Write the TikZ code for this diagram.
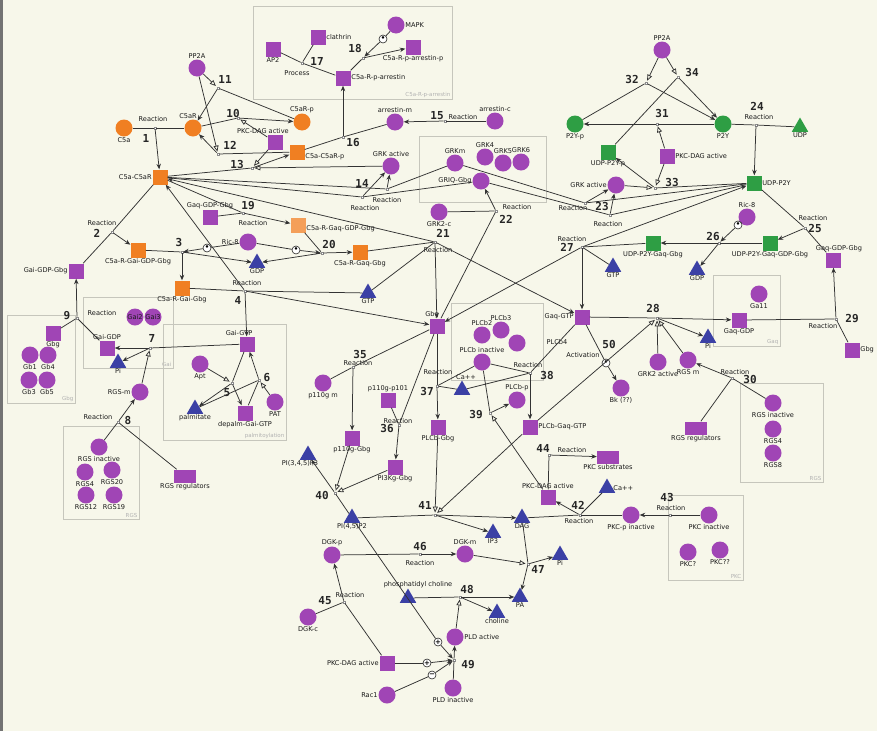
\documentclass[tikz,border=0pt]{standalone}
\usepackage{fontspec}
\setsansfont{DejaVu Sans}
\setmonofont{DejaVu Sans Mono}
\usepackage{tikz}
\usetikzlibrary{arrows.meta,shapes.geometric}
\definecolor{bgc}{HTML}{F7F7EA}
\definecolor{pur}{HTML}{A045B5}
\definecolor{orn}{HTML}{F07F22}
\definecolor{grn}{HTML}{2E9E44}
\definecolor{blu}{HTML}{3B40A5}
\definecolor{boxc}{HTML}{C6C6BC}
\definecolor{lnc}{HTML}{333333}
\tikzset{prot/.style={circle,fill=pur,minimum size=17pt,inner sep=0}}
\tikzset{cplx/.style={rectangle,fill=pur,minimum size=15pt,inner sep=0}}
\tikzset{wcplx/.style={cplx,minimum width=22pt,minimum height=13pt}}
\tikzset{oprot/.style={prot,fill=orn}, ocplx/.style={cplx,fill=orn}}
\tikzset{gprot/.style={prot,fill=grn}, gcplx/.style={cplx,fill=grn}}
\tikzset{tri/.style={regular polygon,regular polygon sides=3,fill=blu,minimum size=19pt,inner sep=0}}
\tikzset{gtri/.style={tri,fill=grn}}
\tikzset{rxn/.style={rectangle,draw=black!45,fill=white,minimum size=2.5pt,inner sep=0,line width=0.3pt}}
\tikzset{modi/.style={circle,draw=black!85,fill=white,minimum size=8pt,inner sep=0,line width=0.6pt,font=\fontsize{7}{7}\selectfont\sffamily\bfseries}}
\tikzset{num/.style={font=\fontsize{11}{11}\selectfont\ttfamily\bfseries,text=black!85,inner sep=0}}
\tikzset{lab/.style={font=\fontsize{6.6}{7}\selectfont\sffamily,text=black!90,inner sep=0.5pt}}
\tikzset{grp/.style={draw=boxc,line width=0.8pt}}
\tikzset{grplab/.style={font=\fontsize{5.5}{6}\selectfont\sffamily,text=black!30,anchor=south east,inner sep=1.5pt}}
\tikzset{ln/.style={draw=lnc,line width=0.75pt}}
\tikzset{pr/.style={ln,-{Stealth[length=5.5pt,width=4.5pt]}}}
\tikzset{cat/.style={ln,-{Triangle[open,length=6pt,width=5pt]},shorten >=1pt}}

\begin{document}
\begin{tikzpicture}[x=1pt,y=-1pt,every label/.style={lab},label distance=0pt]
\fill[bgc] (0,0) rectangle (877,731);
\useasboundingbox (0,0) rectangle (877,731);
\fill[black!55] (0,0) rectangle (3,731);

% groups
\draw[grp] (253,6) rectangle (452,99);
\node[grplab] (g1) at (452,99) {C5a-R-p-arrestin};
\draw[grp] (419,136) rectangle (546,202);
\draw[grp] (7,315) rectangle (75,403);
\node[grplab] (g3) at (75,403) {Gbg};
\draw[grp] (83,297) rectangle (173,368);
\node[grplab] (g4) at (173,368) {Gai};
\draw[grp] (163,324) rectangle (286,440);
\node[grplab] (g5) at (286,440) {palmitoylation};
\draw[grp] (63,426) rectangle (139,519);
\node[grplab] (g6) at (139,519) {RGS};
\draw[grp] (451,303) rectangle (543,380);
\draw[grp] (713,275) rectangle (780,346);
\node[grplab] (g8) at (780,346) {Gaq};
\draw[grp] (740,383) rectangle (823,482);
\node[grplab] (g9) at (823,482) {RGS};
\draw[grp] (668,495) rectangle (743,580);
\node[grplab] (g10) at (743,580) {PKC};

% receptor part
\node[oprot,label=below:C5a] (c5a) at (124,128) {};
\node[oprot,label={[xshift=-5pt]above:C5aR}] (c5ar) at (193,128) {};
\node[oprot,label=above:C5aR-p] (c5arp) at (302,122) {};
\node[ocplx,label=left:C5a-C5aR] (c5ac) at (160,177) {};
\node[ocplx,label={[yshift=-5pt]right:C5a-C5aR-p}] (c5acp) at (297,152) {};
\node[ocplx,label=below:C5a-R-Gai-GDP-Gbg] (gaiggo) at (138,250) {};
\node[ocplx,label=below:C5a-R-Gai-Gbg] (gaio) at (182,288) {};
\node[ocplx,fill=orn!75,label={[yshift=-4pt]right:C5a-R-Gaq-GDP-Gbg}] (gaqggo) at (298,225) {};
\node[ocplx,label=below:C5a-R-Gaq-Gbg] (gaqo) at (360,252) {};
\node[prot,label=above:PP2A] (pp2a) at (197,68) {};
\node[cplx,label=below:AP2] (ap2) at (273,49) {};
\node[cplx,label=right:clathrin] (clat) at (318,37) {};
\node[cplx,label=right:C5a-R-p-arrestin] (arrs) at (343,78) {};
\node[prot,label=right:MAPK] (mapk) at (396,25) {};
\node[cplx,label=below:C5a-R-p-arrestin-p] (arrp) at (413,47) {};
\node[prot,label=above:arrestin-m] (arrm) at (395,122) {};
\node[prot,label=above:arrestin-c] (arrc) at (495,121) {};
\node[cplx,label={[xshift=-12pt]above:PKC-DAG active}] (pkcdag1) at (275,142) {};
\node[prot,label=above:GRK active] (grka) at (391,166) {};
\node[prot,label=above:GRKm] (grkm) at (455,163) {};
\node[prot,label=above:GRK4] (grk4) at (485,157) {};
\node[prot,label=above:GRK5] (grk5) at (503,163) {};
\node[prot,label=above:GRK6] (grk6) at (521,162) {};
\node[prot,label=left:GRIQ-Gbg] (grig) at (481,181) {};
\node[prot,label=below:GRK2-c] (grk2c) at (439,212) {};
\node[cplx,label=above:Gaq-GDP-Gbg] (gaqgg1) at (210,217) {};

% P2Y part
\node[prot,label=above:PP2A] (pp2b) at (662,50) {};
\node[gprot,label=below:P2Y-p] (p2yp) at (575,124) {};
\node[gprot,label=below:P2Y] (p2y) at (723,124) {};
\node[gtri,label=below:UDP] (udp) at (800,127) {};
\node[gcplx,label=below:UDP-P2Y-p] (udpp2yp) at (608,152) {};
\node[cplx,label=right:PKC-DAG active] (pkcdag2) at (667,156) {};
\node[gcplx,label=right:UDP-P2Y] (udpp2y) at (754,183) {};
\node[prot,label=left:GRK active] (grkb) at (616,185) {};
\node[prot,label=above:Ric-8] (ric8r) at (747,217) {};
\node[gcplx,label=below:UDP-P2Y-Gaq-Gbg] (udpgq) at (653,243) {};
\node[gcplx,label=below:UDP-P2Y-Gaq-GDP-Gbg] (udpgqg) at (770,243) {};
\node[tri,label=below:GTP] (gtpr) at (613,267) {};
\node[tri,label=below:GDP] (gdpr) at (697,270) {};
\node[cplx,label={[xshift=6pt]above:Gaq-GDP-Gbg}] (gaqggr) at (833,260) {};
\node[cplx,label=left:Gaq-GTP] (gaqgtp) at (582,317) {};
\node[cplx,label=below:Gaq-GDP] (gaqgdp) at (739,320) {};
\node[prot,label=below:Ga11] (ga11) at (759,294) {};
\node[tri,label=below:Pi] (pir) at (708,338) {};
\node[cplx,label=right:Gbg] (gbgr) at (852,350) {};
\node[prot,label={below:Bk (??)}] (bk) at (621,388) {};
\node[prot,label=below:GRK2 active] (grk2a) at (658,362) {};
\node[prot,label=below:RGS m] (rgsmr) at (688,360) {};
\node[prot,label=below:RGS inactive] (rgsir) at (773,403) {};
\node[prot,label=below:RGS4] (rgs4r) at (773,429) {};
\node[prot,label=below:RGS8] (rgs8) at (773,453) {};
\node[wcplx,label=below:RGS regulators] (rgsregr) at (696,428) {};

% middle
\node[tri,label=below:GDP] (gdpl) at (257,263) {};
\node[prot,label=left:Ric-8] (ric8l) at (248,242) {};
\node[tri,label=below:GTP] (gtpm) at (368,293) {};
\node[cplx,label={[xshift=-5pt]above:Gbg}] (gbgm) at (437,326) {};
\node[prot,label=above:PLCb2] (plcb2) at (482,335) {};
\node[prot,label=above:PLCb3] (plcb3) at (501,330) {};
\node[prot] (plcb4) at (517,343) {};
\node[prot,label=above:PLCb inactive] (plcbi) at (482,362) {};
\node[tri,label={[xshift=4pt]above:Ca++}] (cam) at (462,390) {};
\node[prot,label=above:PLCb-p] (plcbp) at (517,400) {};
\node[cplx,label=right:PLCb-Gaq-GTP] (plcbgq) at (530,427) {};
\node[cplx,label=below:PLCb-Gbg] (plcbg) at (438,427) {};
\node[prot,label=below:p110g m] (p110m) at (323,383) {};
\node[cplx,label=above:p110g-p101] (p101) at (388,400) {};
\node[cplx,label=below:p110g-Gbg] (p110gg) at (352,438) {};
\node[cplx,label=below:PI3Kg-Gbg] (pi3k) at (395,467) {};
\node[tri,label={[xshift=-8pt]below:{PI(3,4,5)P3}}] (pip3) at (308,455) {};
\node[tri,label={below:{PI(4,5)P2}}] (pip2) at (352,518) {};
\node[tri,label=below:DAG] (dag) at (522,518) {};
\node[tri,label=below:IP3] (ip3) at (493,533) {};
\node[cplx,label=above:PKC-DAG active] (pkcdag3) at (548,497) {};
\node[wcplx,label=below:PKC substrates] (pkcsub) at (608,457) {};
\node[tri,label=right:Ca++] (car) at (607,488) {};
\node[prot,label=below:PKC-p inactive] (pkcp) at (631,515) {};
\node[prot,label=below:PKC inactive] (pkci) at (709,515) {};
\node[prot,label=below:PKC?] (pkc1) at (688,552) {};
\node[prot,label=below:PKC??] (pkc2) at (720,550) {};
\node[prot,label=above:DGK-p] (dgkp) at (332,555) {};
\node[prot,label=above:DGK-m] (dgkm) at (465,554) {};
\node[tri,label=below:Pi] (pi2) at (560,555) {};
\node[tri,label={[xshift=10pt]above:phosphatidyl choline}] (pc) at (408,598) {};
\node[tri,label=below:PA] (pa) at (520,597) {};
\node[tri,label=below:choline] (chol) at (497,613) {};
\node[prot,label=below:DGK-c] (dgkc) at (308,617) {};
\node[prot,label=right:PLD active] (plda) at (455,637) {};
\node[cplx,label=left:PKC-DAG active] (pkcdag4) at (387,663) {};
\node[prot,label=left:Rac1] (rac1) at (387,695) {};
\node[prot,label=below:PLD inactive] (pldi) at (453,688) {};

% left part
\node[cplx,label=left:Gai-GDP-Gbg] (gaigg) at (76,271) {};
\node[cplx,label=below:Gbg] (gbgl) at (53,333) {};
\node[prot,label=below:Gb1] (gb1) at (30,355) {};
\node[prot,label=below:Gb4] (gb4) at (48,355) {};
\node[prot,label=below:Gb3] (gb3) at (29,380) {};
\node[prot,label=below:Gb5] (gb5) at (47,380) {};
\node[cplx,label=above:Gai-GDP] (gaigdp) at (107,348) {};
\node[prot,label=center:Gai2] (gai2) at (135,317) {};
\node[prot,label=center:Gai3] (gai3) at (153,317) {};
\node[tri,label=below:Pi] (pil) at (118,363) {};
\node[prot,label=left:RGS-m] (rgsm) at (140,392) {};
\node[cplx,label={[xshift=-8pt]above:Gai-GTP}] (gaigtp) at (247,344) {};
\node[prot,label=below:Apt] (apt) at (200,364) {};
\node[tri,label=below:palmitate] (palm) at (195,409) {};
\node[cplx,label=below:depalm-Gai-GTP] (depal) at (245,413) {};
\node[prot,label=below:PAT] (pat) at (275,402) {};
\node[prot,label=below:RGS inactive] (rgsi) at (99,447) {};
\node[prot,label=below:RGS4] (rgs4) at (85,472) {};
\node[prot,label=below:RGS20] (rgs20) at (112,470) {};
\node[prot,label=below:RGS12] (rgs12) at (86,495) {};
\node[prot,label=below:RGS19] (rgs19) at (114,495) {};
\node[wcplx,label=below:RGS regulators] (rgsregl) at (185,476) {};

% modifiers
\node[modi] (m3) at (207,248) {\textbullet};
\node[modi] (m20) at (296,250) {\textbullet};
\node[modi] (m18) at (383,39) {\textbullet};
\node[modi] (m26) at (738,225) {\textbullet};
\node[modi] (m50) at (606,363) {\textbullet};
\node[modi] (m49a) at (438,642) {+};
\node[modi] (m49b) at (427,663) {+};
\node[modi] (m49c) at (432,675) {\char"2212};

% reaction points
\node[rxn] (r1) at (155,128) {};
\node[rxn] (r2) at (112,232) {};
\node[rxn] (r3) at (182,252) {};
\node[rxn] (r4) at (245,291) {};
\node[rxn] (r5) at (232,383) {};
\node[rxn] (r6) at (259,380) {};
\node[rxn] (r7) at (150,348) {};
\node[rxn] (r8) at (118,422) {};
\node[rxn] (r9) at (77,318) {};
\node[rxn] (r10) at (238,118) {};
\node[rxn] (r11) at (218,88) {};
\node[rxn] (r12) at (218,154) {};
\node[rxn] (r13) at (252,168) {};
\node[rxn] (r14a) at (362,197) {};
\node[rxn] (r14b) at (387,189) {};
\node[rxn] (r15) at (445,121) {};
\node[rxn] (r16) at (343,137) {};
\node[rxn] (r17) at (302,63) {};
\node[rxn] (r18) at (363,58) {};
\node[rxn] (r19) at (243,213) {};
\node[rxn] (r20) at (322,253) {};
\node[rxn] (r21) at (435,242) {};
\node[rxn] (r22) at (496,211) {};
\node[rxn] (r23a) at (585,203) {};
\node[rxn] (r23b) at (610,215) {};
\node[rxn] (r24) at (756,125) {};
\node[rxn] (r25) at (805,228) {};
\node[rxn] (r26) at (719,243) {};
\node[rxn] (r27) at (582,247) {};
\node[rxn] (r28) at (657,318) {};
\node[rxn] (r29) at (836,319) {};
\node[rxn] (r30) at (732,378) {};
\node[rxn] (r31) at (657,124) {};
\node[rxn] (r32) at (646,83) {};
\node[rxn] (r33) at (655,188) {};
\node[rxn] (r34) at (678,77) {};
\node[rxn] (r35) at (353,367) {};
\node[rxn] (r36) at (399,425) {};
\node[rxn] (r37) at (437,386) {};
\node[rxn] (r38) at (530,373) {};
\node[rxn] (r39) at (490,413) {};
\node[rxn] (r40) at (335,493) {};
\node[rxn] (r41) at (435,515) {};
\node[rxn] (r42) at (580,515) {};
\node[rxn] (r43) at (670,515) {};
\node[rxn] (r44) at (549,455) {};
\node[rxn] (r45) at (344,602) {};
\node[rxn] (r46) at (420,554) {};
\node[rxn] (r47) at (528,564) {};
\node[rxn] (r48) at (460,597) {};
\node[rxn] (r49) at (454,660) {};

% numbers and reaction texts
\node[num] (n1) at (146,138) {1};
\node[num] (n2) at (97,233) {2};
\node[num] (n3) at (179,242) {3};
\node[num] (n4) at (238,300) {4};
\node[num] (n5) at (227,393) {5};
\node[num] (n6) at (267,377) {6};
\node[num] (n7) at (152,338) {7};
\node[num] (n8) at (128,420) {8};
\node[num] (n9) at (67,316) {9};
\node[num] (n10) at (233,113) {10};
\node[num] (n11) at (225,79) {11};
\node[num] (n12) at (230,145) {12};
\node[num] (n13) at (237,164) {13};
\node[num] (n14) at (362,183) {14};
\node[num] (n15) at (437,116) {15};
\node[num] (n16) at (353,143) {16};
\node[num] (n17) at (317,61) {17};
\node[num] (n18) at (355,48) {18};
\node[num] (n19) at (248,206) {19};
\node[num] (n20) at (329,244) {20};
\node[num] (n21) at (443,233) {21};
\node[num] (n22) at (506,219) {22};
\node[num] (n23) at (602,206) {23};
\node[num] (n24) at (757,106) {24};
\node[num] (n25) at (815,228) {25};
\node[num] (n26) at (713,236) {26};
\node[num] (n27) at (567,247) {27};
\node[num] (n28) at (653,308) {28};
\node[num] (n29) at (852,319) {29};
\node[num] (n30) at (750,379) {30};
\node[num] (n31) at (662,113) {31};
\node[num] (n32) at (632,79) {32};
\node[num] (n33) at (672,182) {33};
\node[num] (n34) at (692,72) {34};
\node[num] (n35) at (360,354) {35};
\node[num] (n36) at (387,428) {36};
\node[num] (n37) at (427,391) {37};
\node[num] (n38) at (547,375) {38};
\node[num] (n39) at (476,415) {39};
\node[num] (n40) at (322,495) {40};
\node[num] (n41) at (425,505) {41};
\node[num] (n42) at (578,505) {42};
\node[num] (n43) at (667,497) {43};
\node[num] (n44) at (543,448) {44};
\node[num] (n45) at (325,601) {45};
\node[num] (n46) at (420,546) {46};
\node[num] (n47) at (538,569) {47};
\node[num] (n48) at (467,589) {48};
\node[num] (n49) at (468,665) {49};
\node[num] (n50) at (609,344) {50};
\node[lab] (t1) at (153,119) {Reaction};
\node[lab] (t2) at (102,223) {Reaction};
\node[lab] (t4) at (247,283) {Reaction};
\node[lab] (t8) at (98,417) {Reaction};
\node[lab] (t9) at (102,313) {Reaction};
\node[lab] (t14a) at (365,208) {Reaction};
\node[lab] (t14b) at (387,200) {Reaction};
\node[lab] (t15) at (463,117) {Reaction};
\node[lab] (t17) at (297,73) {Process};
\node[lab] (t19) at (253,223) {Reaction};
\node[lab] (t21) at (438,250) {Reaction};
\node[lab] (t22) at (517,207) {Reaction};
\node[lab] (t23a) at (573,208) {Reaction};
\node[lab] (t23b) at (608,224) {Reaction};
\node[lab] (t24) at (759,117) {Reaction};
\node[lab] (t25) at (813,218) {Reaction};
\node[lab] (t27) at (572,239) {Reaction};
\node[lab] (t29) at (823,326) {Reaction};
\node[lab] (t30) at (735,372) {Reaction};
\node[lab] (t35) at (358,363) {Reaction};
\node[lab] (t36) at (398,421) {Reaction};
\node[lab] (t37) at (438,372) {Reaction};
\node[lab] (t38) at (528,365) {Reaction};
\node[lab] (t42) at (579,521) {Reaction};
\node[lab] (t43) at (671,508) {Reaction};
\node[lab] (t44) at (572,450) {Reaction};
\node[lab] (t45) at (350,595) {Reaction};
\node[lab] (t46) at (420,563) {Reaction};
\node[lab] (t50) at (583,355) {Activation};
\node[lab] (tplc) at (557,342) {PLCb4};

% reactions
\draw[ln] (c5a) -- (r1) -- (c5ar);
\draw[pr] (r1) -- (c5ac);
\draw[ln] (c5ac) -- (r2) -- (gaigg);
\draw[pr] (r2) -- (gaiggo);
\draw[ln] (gaiggo) -- (r3);
\draw[pr] (r3) -- (gdpl);
\draw[pr] (r3) -- (gaio);
\draw[ln] (ric8l) -- (m3);
\draw[pr] (m3) -- (r3);
\draw[ln] (gaio) -- (r4) -- (gtpm);
\draw[pr] (r4) -- (gaigtp);
\draw[pr] (r4) -- (gbgm);
\draw[pr] (r4) -- (c5ac);
\draw[ln] (gaigtp) -- (r5);
\draw[pr] (r5) -- (palm);
\draw[pr] (r5) -- (depal);
\draw[cat] (apt) -- (r5);
\draw[ln] (depal) -- (r6);
\draw[ln] (palm) -- (r6);
\draw[pr] (r6) -- (gaigtp);
\draw[cat] (pat) -- (r6);
\draw[ln] (gaigtp) -- (r7);
\draw[pr] (r7) -- (gaigdp);
\draw[pr] (r7) -- (pil);
\draw[cat] (rgsm) -- (r7);
\draw[ln] (rgsi) -- (r8);
\draw[ln] (rgsregl) -- (r8);
\draw[pr] (r8) -- (rgsm);
\draw[ln] (gbgl) -- (r9);
\draw[ln] (gaigdp) -- (r9);
\draw[pr] (r9) -- (gaigg);
\draw[ln] (c5ar) -- (r10);
\draw[pr] (r10) -- (c5arp);
\draw[cat] (pkcdag1) -- (r10);
\draw[ln] (c5arp) -- (r11);
\draw[pr] (r11) -- (c5ar);
\draw[cat] (pp2a) -- (r11);
\draw[ln] (c5acp) -- (r12);
\draw[pr] (r12) -- (c5ar);
\draw[cat] (pp2a) -- (r12);
\draw[ln] (c5ac) -- (r13);
\draw[pr] (r13) -- (c5acp);
\draw[cat] (pkcdag1) -- (r13);
\draw[cat] (grka) -- (r13);
\draw[ln] (c5ac) -- (r14a);
\draw[ln] (grig) -- (r14a);
\draw[pr] (r14a) -- (grka);
\draw[ln] (c5ac) -- (r14b);
\draw[ln] (grkm) -- (r14b);
\draw[pr] (r14b) -- (grka);
\draw[ln] (arrc) -- (r15);
\draw[pr] (r15) -- (arrm);
\draw[ln] (c5acp) -- (r16);
\draw[ln] (arrm) -- (r16);
\draw[pr] (r16) -- (arrs);
\draw[ln] (ap2) -- (r17);
\draw[ln] (clat) -- (r17);
\draw[ln] (r17) -- (arrs);
\draw[ln] (arrs) -- (r18);
\draw[pr] (r18) -- (arrp);
\draw[ln] (mapk) -- (m18);
\draw[pr] (m18) -- (r18);
\draw[ln] (c5ac) -- (r19);
\draw[ln] (gaqgg1) -- (r19);
\draw[pr] (r19) -- (gaqggo);
\draw[ln] (gaqggo) -- (r20);
\draw[pr] (r20) -- (gaqo);
\draw[pr] (r20) -- (gdpl);
\draw[ln] (ric8l) -- (m20);
\draw[pr] (m20) -- (r20);
\draw[ln] (gaqo) -- (r21);
\draw[ln] (gtpm) -- (r21);
\draw[pr] (r21) -- (c5ac);
\draw[pr] (r21) -- (gbgm);
\draw[pr] (r21) -- (gaqgtp);
\draw[ln] (grk2c) -- (r22);
\draw[ln] (gbgm) -- (r22);
\draw[pr] (r22) -- (grig);
\draw[ln] (udpp2y) -- (r23a);
\draw[ln] (grkm) -- (r23a);
\draw[pr] (r23a) -- (grkb);
\draw[ln] (udpp2y) -- (r23b);
\draw[ln] (grig) -- (r23b);
\draw[pr] (r23b) -- (grkb);
\draw[ln] (p2y) -- (r24) -- (udp);
\draw[pr] (r24) -- (udpp2y);
\draw[ln] (udpp2y) -- (r25) -- (gaqggr);
\draw[pr] (r25) -- (udpgqg);
\draw[ln] (udpgqg) -- (r26);
\draw[pr] (r26) -- (udpgq);
\draw[pr] (r26) -- (gdpr);
\draw[ln] (ric8r) -- (m26);
\draw[pr] (m26) -- (r26);
\draw[ln] (udpgq) -- (r27);
\draw[ln] (gtpr) -- (r27);
\draw[pr] (r27) -- (gaqgtp);
\draw[pr] (r27) -- (udpp2y);
\draw[pr] (r27) -- (gbgm);
\draw[ln] (gaqgtp) -- (r28);
\draw[pr] (r28) -- (gaqgdp);
\draw[pr] (r28) -- (pir);
\draw[cat] (grk2a) -- (r28);
\draw[cat] (rgsmr) -- (r28);
\draw[cat] (plcbgq) -- (r28);
\draw[ln] (gaqgdp) -- (r29);
\draw[ln] (gbgr) -- (r29);
\draw[pr] (r29) -- (gaqggr);
\draw[ln] (rgsir) -- (r30);
\draw[ln] (rgsregr) -- (r30);
\draw[pr] (r30) -- (rgsmr);
\draw[ln] (p2y) -- (r31);
\draw[pr] (r31) -- (p2yp);
\draw[cat] (pkcdag2) -- (r31);
\draw[ln] (p2yp) -- (r32);
\draw[pr] (r32) -- (p2y);
\draw[cat] (pp2b) -- (r32);
\draw[ln] (udpp2y) -- (r33);
\draw[pr] (r33) -- (udpp2yp);
\draw[cat] (pkcdag2) -- (r33);
\draw[cat] (grkb) -- (r33);
\draw[ln] (udpp2yp) -- (r34);
\draw[pr] (r34) -- (p2y);
\draw[cat] (pp2b) -- (r34);
\draw[ln] (p110m) -- (r35);
\draw[ln] (gbgm) -- (r35);
\draw[pr] (r35) -- (p110gg);
\draw[ln] (p101) -- (r36);
\draw[ln] (gbgm) -- (r36);
\draw[pr] (r36) -- (pi3k);
\draw[ln] (gbgm) -- (r37);
\draw[ln] (plcbi) -- (r37);
\draw[ln] (cam) -- (r37);
\draw[pr] (r37) -- (plcbg);
\draw[ln] (gaqgtp) -- (r38);
\draw[ln] (plcbi) -- (r38);
\draw[ln] (cam) -- (r38);
\draw[pr] (r38) -- (plcbgq);
\draw[ln] (plcbi) -- (r39);
\draw[pr] (r39) -- (plcbp);
\draw[cat] (pkcdag3) -- (r39);
\draw[ln] (pip2) -- (r40);
\draw[pr] (r40) -- (pip3);
\draw[cat] (p110gg) -- (r40);
\draw[cat] (pi3k) -- (r40);
\draw[ln] (pip2) -- (r41);
\draw[pr] (r41) -- (dag);
\draw[pr] (r41) -- (ip3);
\draw[cat] (plcbg) -- (r41);
\draw[cat] (plcbgq) -- (r41);
\draw[ln] (pkcp) -- (r42);
\draw[ln] (car) -- (r42);
\draw[ln] (dag) -- (r42);
\draw[pr] (r42) -- (pkcdag3);
\draw[ln] (pkci) -- (r43);
\draw[pr] (r43) -- (pkcp);
\draw[ln] (pkcdag3) -- (r44);
\draw[pr] (r44) -- (pkcsub);
\draw[ln] (dgkc) -- (r45);
\draw[ln] (pkcdag4) -- (r45);
\draw[pr] (r45) -- (dgkp);
\draw[ln] (dgkp) -- (r46);
\draw[pr] (r46) -- (dgkm);
\draw[ln] (dag) -- (r47);
\draw[pr] (r47) -- (pa);
\draw[pr] (r47) -- (pi2);
\draw[cat] (dgkm) -- (r47);
\draw[ln] (pc) -- (r48);
\draw[pr] (r48) -- (pa);
\draw[pr] (r48) -- (chol);
\draw[cat] (plda) -- (r48);
\draw[ln] (pldi) -- (r49);
\draw[pr] (r49) -- (plda);
\draw[ln] (pip2) -- (m49a);
\draw[pr] (m49a) -- (r49);
\draw[ln] (pkcdag4) -- (m49b);
\draw[pr] (m49b) -- (r49);
\draw[ln] (rac1) -- (m49c);
\draw[pr] (m49c) -- (r49);
\draw[ln] (gaqgtp) -- (m50);
\draw[pr] (m50) -- (bk);
\end{tikzpicture}
\end{document}
